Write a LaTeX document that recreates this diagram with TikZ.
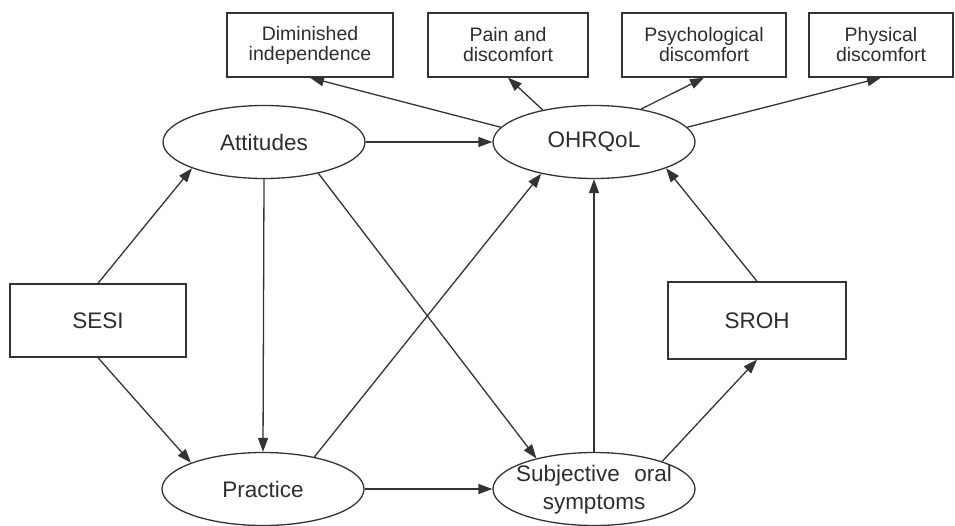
\documentclass[tikz,border=0pt]{standalone}
\usepackage{fontspec}
\setmainfont{Liberation Sans}
\usetikzlibrary{shapes.geometric,arrows.meta}
\definecolor{ink}{RGB}{51,51,51}
\definecolor{txt}{RGB}{45,45,45}
\tikzset{
  bigfont/.style={font=\fontsize{22.5}{28}\selectfont, text=txt},
  smallfont/.style={font=\fontsize{19.5}{20}\selectfont, text=txt},
  ell/.style={draw=ink, line width=1.3pt, ellipse, minimum width=202pt, minimum height=73pt, inner sep=0pt, bigfont},
  bigbox/.style={draw=ink, line width=1.4pt, rectangle, inner sep=0pt, bigfont},
  smallbox/.style={draw=ink, line width=1.4pt, rectangle, inner sep=0pt, minimum height=64pt, smallfont, align=center},
  arr/.style={draw=ink, line width=1.3pt, -{Triangle[length=14pt,width=10pt]}},
}
\begin{document}
\begin{tikzpicture}[x=1pt,y=-1pt]
\useasboundingbox (0,0) rectangle (955,525);
% top boxes
\node[smallbox, minimum width=166pt] (dim) at (310,45) {Diminished\\independence};
\node[smallbox, minimum width=160pt] (pain) at (508,45) {Pain and\\discomfort};
\node[smallbox, minimum width=164pt] (psy) at (704,45) {Psychological\\discomfort};
\node[smallbox, minimum width=144pt] (phy) at (881,45) {Physical\\discomfort};
% ellipses
\node[ell] (att) at (264,142) {Attitudes};
\node[ell] (ohr) at (594,142) {OHRQoL};
\node[ell] (prac) at (263,489) {Practice};
\node[ell] (sub) at (594,489) {};
\node[bigfont, align=center, inner sep=0pt] (subt) at (594,490) {Subjective\hspace{0.65em}oral\\symptoms};
% rectangles
\node[bigbox, minimum width=176pt, minimum height=73pt] (sesi) at (98,320.5) {SESI};
\node[bigbox, minimum width=178pt, minimum height=77pt] (sroh) at (757,320.5) {SROH};
% connectors
\draw[arr] (sesi.north) -- (att.200);
\draw[arr] (sesi.south) -- (prac.160);
\draw[arr] (att.east) -- (ohr.west);
\draw[arr] (att.south) -- (prac.north);
\draw[arr] (att.-30) -- (sub.152);
\draw[arr] (prac.east) -- (sub.west);
\draw[arr] (prac.32) -- (ohr.211);
\draw[arr] (sub.north) -- (ohr.south);
\draw[arr] (sub.22) -- (sroh.south);
\draw[arr] (sroh.north) -- (ohr.340);
\draw[arr] (ohr.171) -- (dim.south);
\draw[arr] (ohr.148) -- (pain.south);
\draw[arr] (ohr.35) -- (psy.south);
\draw[arr] (ohr.9) -- (phy.south);
\end{tikzpicture}
\end{document}
